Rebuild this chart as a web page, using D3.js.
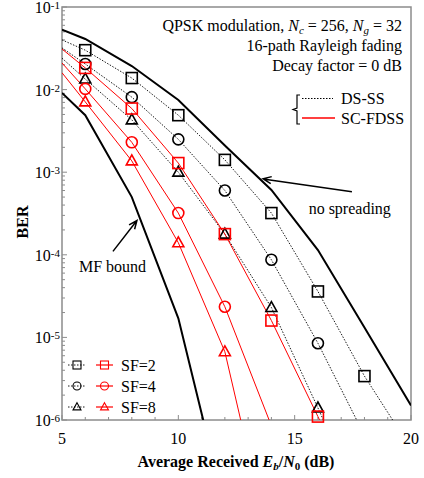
<!DOCTYPE html>
<html>
<head>
<meta charset="utf-8">
<script src="https://cdn.jsdelivr.net/npm/d3@7"></script>
<style>
  body { margin: 0; background: #fff; }
  svg { font-family: "Liberation Serif", "Times New Roman", serif; }
</style>
</head>
<body>
<svg id="chart" width="424" height="478"></svg>
<script>
// Eb/N0 grid (dB) of the computed curves
const lineSnr = [5, 6, 8, 10, 12, 14, 16, 18, 20];
const markerSnr = [6, 8, 10, 12, 14, 16, 18];

// BER
const noSpread = [0.053, 0.041, 0.0193, 7.5e-3, 2.1e-3, 6.1e-4, 1.14e-4, 1.32e-5, 1.5e-6];
const mfBound  = [9.1e-3, 4.9e-3, 5.0e-4, 1.7e-5, 8.5e-8, null, null, null, null];
const dsSF2 = [0.040, 0.030, 0.0138, 4.9e-3, 1.41e-3, 3.2e-4, 3.6e-5, 3.4e-6, 4.5e-7];
const dsSF4 = [0.032, 0.0204, 8.1e-3, 2.5e-3, 6.0e-4, 8.7e-5, 8.5e-6, 6.5e-7, null];
const dsSF8 = [0.024, 0.0134, 4.3e-3, 1.0e-3, 1.78e-4, 2.3e-5, 1.4e-6, 7.8e-8, null];
const scSF2 = [0.031, 0.0183, 5.9e-3, 1.29e-3, 1.78e-4, 1.6e-5, 1.1e-6, 7.6e-8, null];
const scSF4 = [0.021, 0.0102, 2.3e-3, 3.2e-4, 2.35e-5, 8.5e-7, null, null, null];
const scSF8 = [0.016, 0.0071, 1.37e-3, 1.4e-4, 6.7e-6, 2.5e-8, null, null, null];

const xTicks = [5, 10, 15, 20];
const yExps = [-1, -2, -3, -4, -5, -6];
const sfLabels = ["SF=2", "SF=4", "SF=8"];

const svg = d3.select('#chart');
const pL = 62, pR = 411, pT = 7, pB = 420;

const x = d3.scaleLinear().domain([5, 20]).range([pL, pR]);
const y = d3.scaleLog().domain([1e-6, 1e-1]).range([pB, pT]);

svg.append("defs").append("clipPath").attr("id", "plotclip")
  .append("rect").attr("x", pL).attr("y", pT)
  .attr("width", pR - pL).attr("height", pB - pT);

// axis ticks (inward)
const grey = "#8c8c8c";
const minorX = d3.range(5, 20.01, 1);
svg.append("g").selectAll("line").data(minorX).enter().append("line")
  .attr("x1", d => x(d)).attr("x2", d => x(d))
  .attr("y1", pB).attr("y2", d => pB - (d % 5 === 0 ? 5 : 3))
  .attr("stroke", grey).attr("stroke-width", 1);

let minorY = [];
yExps.forEach(e => { for (let k = 1; k < 10; k++) { const v = k * Math.pow(10, e); if (v <= 0.1 + 1e-12) minorY.push({v: v, major: k === 1}); } });
svg.append("g").selectAll("line").data(minorY).enter().append("line")
  .attr("x1", pL).attr("x2", d => pL + (d.major ? 5 : 3))
  .attr("y1", d => y(d.v)).attr("y2", d => y(d.v))
  .attr("stroke", grey).attr("stroke-width", 1);

// frame
svg.append("rect").attr("x", pL).attr("y", pT)
  .attr("width", pR - pL).attr("height", pB - pT)
  .attr("fill", "none").attr("stroke", grey).attr("stroke-width", 1.5);

// tick labels
svg.append("g").selectAll("text").data(xTicks).enter().append("text")
  .attr("x", d => x(d)).attr("y", 444).attr("text-anchor", "middle")
  .attr("font-size", 16).text(d => d);

const yl = svg.append("g").selectAll("text").data(yExps).enter().append("text")
  .attr("x", 60).attr("y", d => y(Math.pow(10, d)) + 6)
  .attr("text-anchor", "end").attr("font-size", 16);
yl.append("tspan").text("10");
yl.append("tspan").attr("dy", -4).attr("font-size", 11).text(d => "-" + (-d));

// axis titles
const xt = svg.append("text").attr("x", 236).attr("y", 467).attr("text-anchor", "middle")
  .attr("font-size", 16).attr("font-weight", "bold");
xt.append("tspan").text("Average Received ");
xt.append("tspan").attr("font-style", "italic").text("E");
xt.append("tspan").attr("font-size", 11).attr("dy", 3).attr("font-style", "italic").text("b");
xt.append("tspan").attr("dy", -3).text("/");
xt.append("tspan").attr("font-style", "italic").text("N");
xt.append("tspan").attr("font-size", 11).attr("dy", 3).text("0");
xt.append("tspan").attr("dy", -3).text(" (dB)");

svg.append("text").attr("transform", "translate(28,222) rotate(-90)")
  .attr("text-anchor", "middle").attr("font-size", 16).attr("font-weight", "bold").text("BER");

// curves
const plot = svg.append("g").attr("clip-path", "url(#plotclip)");
const line = d3.line()
  .defined(d => d.ber != null)
  .x(d => x(d.snr)).y(d => y(d.ber));
const pts = arr => lineSnr.map((s, i) => ({snr: s, ber: arr[i]}));

const series = [
  {data: dsSF2, color: "#000", dash: "1.5,1.5", w: 0.9, shape: "square"},
  {data: dsSF4, color: "#000", dash: "1.5,1.5", w: 0.9, shape: "circle"},
  {data: dsSF8, color: "#000", dash: "1.5,1.5", w: 0.9, shape: "triangle"},
  {data: scSF2, color: "#ff0000", dash: null, w: 1, shape: "square"},
  {data: scSF4, color: "#ff0000", dash: null, w: 1, shape: "circle"},
  {data: scSF8, color: "#ff0000", dash: null, w: 1, shape: "triangle"}
];

plot.append("path").datum(pts(noSpread)).attr("d", line)
  .attr("fill", "none").attr("stroke", "#000").attr("stroke-width", 2);
plot.append("path").datum(pts(mfBound)).attr("d", line)
  .attr("fill", "none").attr("stroke", "#000").attr("stroke-width", 2);

series.forEach(s => {
  plot.append("path").datum(pts(s.data)).attr("d", line)
    .attr("fill", "none").attr("stroke", s.color).attr("stroke-width", s.w)
    .attr("stroke-dasharray", s.dash);
});

function drawMarker(g, shape, cx, cy, size, color, sw) {
  if (shape === "square") {
    g.append("rect").attr("x", cx - size / 2).attr("y", cy - size / 2)
      .attr("width", size).attr("height", size)
      .attr("fill", "none").attr("stroke", color).attr("stroke-width", sw);
  } else if (shape === "circle") {
    g.append("circle").attr("cx", cx).attr("cy", cy).attr("r", size / 2)
      .attr("fill", "none").attr("stroke", color).attr("stroke-width", sw);
  } else {
    const h = size * 0.9;
    g.append("path")
      .attr("d", `M${cx},${cy - h * 0.6}L${cx + size / 2},${cy + h * 0.4}L${cx - size / 2},${cy + h * 0.4}Z`)
      .attr("fill", "none").attr("stroke", color).attr("stroke-width", sw);
  }
}

const mk = svg.append("g");
series.forEach(s => {
  markerSnr.forEach(snr => {
    const v = s.data[lineSnr.indexOf(snr)];
    if (v == null || v < 1e-6) return;
    drawMarker(mk, s.shape, x(snr), y(v), 11, s.color, 1.6);
  });
});

// header text
const hdr = svg.append("g").attr("font-size", 16).attr("text-anchor", "end");
const h1 = hdr.append("text").attr("x", 402).attr("y", 31);
h1.append("tspan").text("QPSK modulation, ");
h1.append("tspan").attr("font-style", "italic").text("N");
h1.append("tspan").attr("font-size", 11).attr("dy", 3).attr("font-style", "italic").text("c");
h1.append("tspan").attr("dy", -3).text(" = 256, ");
h1.append("tspan").attr("font-style", "italic").text("N");
h1.append("tspan").attr("font-size", 11).attr("dy", 3).attr("font-style", "italic").text("g");
h1.append("tspan").attr("dy", -3).text(" = 32");
hdr.append("text").attr("x", 402).attr("y", 51).text("16-path Rayleigh fading");
hdr.append("text").attr("x", 402).attr("y", 71).text("Decay factor = 0 dB");

// DS-SS / SC-FDSS legend
svg.append("path").attr("d", "M300,95 L297,95 L297,108 L293,109.5 L297,111 L297,124 L300,124")
  .attr("fill", "none").attr("stroke", "#000").attr("stroke-width", 1.2);
svg.append("line").attr("x1", 302).attr("x2", 333).attr("y1", 98.5).attr("y2", 98.5)
  .attr("stroke", "#000").attr("stroke-width", 1).attr("stroke-dasharray", "1.5,1.5");
svg.append("line").attr("x1", 302).attr("x2", 335).attr("y1", 118).attr("y2", 118)
  .attr("stroke", "#ff0000").attr("stroke-width", 1.5);
svg.append("text").attr("x", 341).attr("y", 104).attr("font-size", 16).text("DS-SS");
svg.append("text").attr("x", 341).attr("y", 124).attr("font-size", 16).text("SC-FDSS");

// SF legend
const shapes = ["square", "circle", "triangle"];
sfLabels.forEach((lab, i) => {
  const cy = 365 + i * 21;
  svg.append("line").attr("x1", 68).attr("x2", 86).attr("y1", cy).attr("y2", cy)
    .attr("stroke", "#000").attr("stroke-width", 0.9).attr("stroke-dasharray", "1.5,1.5");
  drawMarker(svg, shapes[i], 77, cy, 8, "#000", 1.1);
  svg.append("line").attr("x1", 96).attr("x2", 113).attr("y1", cy).attr("y2", cy)
    .attr("stroke", "#ff0000").attr("stroke-width", 1.2);
  drawMarker(svg, shapes[i], 104.5, cy, 8, "#ff0000", 1.1);
  svg.append("text").attr("x", 121).attr("y", cy + 6).attr("font-size", 16).text(lab);
});

// annotations with open arrow heads
function arrow(x1, y1, x2, y2) {
  const a = Math.atan2(y2 - y1, x2 - x1), L = 9, sp = 0.4;
  const p = `M${x1},${y1}L${x2},${y2}` +
    `M${x2 - L * Math.cos(a - sp)},${y2 - L * Math.sin(a - sp)}L${x2},${y2}` +
    `L${x2 - L * Math.cos(a + sp)},${y2 - L * Math.sin(a + sp)}`;
  svg.append("path").attr("d", p).attr("fill", "none").attr("stroke", "#000").attr("stroke-width", 1.5);
}
arrow(x(17.46), y(5.8e-4), x(13.64), y(8.3e-4));
svg.append("text").attr("x", x(15.6)).attr("y", 214).attr("font-size", 16).text("no spreading");
arrow(x(7.19), y(1.1e-4), x(8.22), y(2.6e-4));
svg.append("text").attr("x", x(5.73)).attr("y", 272).attr("font-size", 16).text("MF bound");
</script>
</body>
</html>
